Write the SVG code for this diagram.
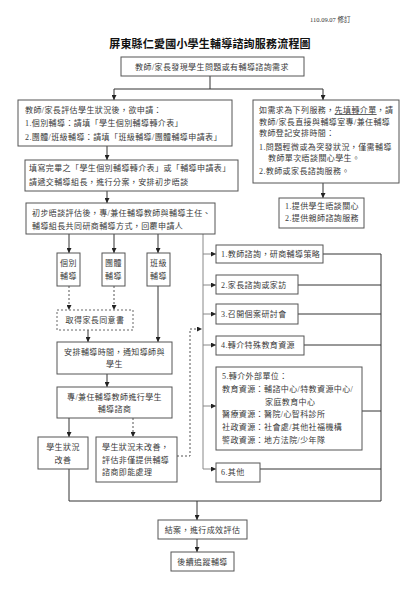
<svg xmlns="http://www.w3.org/2000/svg" width="420" height="593" viewBox="0 0 420 593">
<style>
.box{fill:#fff;stroke:#555;stroke-width:1}
.dbox{fill:#fff;stroke:#666;stroke-width:1;stroke-dasharray:2 2}
.ln{fill:none;stroke:#333;stroke-width:1}
.gl{fill:none;stroke:#888;stroke-width:1}
.dl{fill:none;stroke:#555;stroke-width:1;stroke-dasharray:2 2}
.t{font-family:"Liberation Serif","Noto Sans CJK TC",serif;font-size:8px;fill:#3a3a3a;letter-spacing:0.4px}
.c{text-anchor:middle}
.ttl{font-family:"Liberation Serif","Noto Sans CJK TC",serif;font-size:11px;font-weight:bold;fill:#111;letter-spacing:0.2px;text-anchor:middle}
.hd{font-family:"Liberation Serif","Noto Sans CJK TC",serif;font-size:6.5px;fill:#333}
</style>
<defs>
<marker id="ar" markerUnits="userSpaceOnUse" markerWidth="5" markerHeight="5" refX="5" refY="2.5" orient="auto"><path d="M0,0 L5,2.5 L0,5 z" fill="#222"/></marker>
</defs>
<rect width="420" height="593" fill="#fff"/>
<text class="hd" x="310" y="22">110.09.07 修訂</text>
<text class="ttl" x="210" y="48">屏東縣仁愛國小學生輔導諮詢服務流程圖</text>

<g id="connectors">
<path class="ln" d="M210,76 V89 M114,89 H323"/>
<path class="ln" d="M114,89 V100" marker-end="url(#ar)"/>
<path class="ln" d="M323,89 V100" marker-end="url(#ar)"/>
<path class="ln" d="M107,146 V160" marker-end="url(#ar)"/>
<path class="ln" d="M107,191 V203" marker-end="url(#ar)"/>
<path class="ln" d="M323,183 V198" marker-end="url(#ar)"/>
<path class="ln" d="M69,234 V253" marker-end="url(#ar)"/>
<path class="ln" d="M114,234 V253" marker-end="url(#ar)"/>
<path class="ln" d="M158,234 V253" marker-end="url(#ar)"/>
<path class="dl" d="M69,286 V310" marker-end="url(#ar)"/>
<path class="dl" d="M114,286 V310" marker-end="url(#ar)"/>
<path class="ln" d="M88,330 V342" marker-end="url(#ar)"/>
<path class="ln" d="M158,286 V342" marker-end="url(#ar)"/>
<path class="ln" d="M107,374 V387" marker-end="url(#ar)"/>
<path class="ln" d="M69,418 V437" marker-end="url(#ar)"/>
<path class="dl" d="M133,418 V437" marker-end="url(#ar)"/>
<path class="dl" d="M177,456 H190 V329 H202" marker-end="url(#ar)"/>
<path class="gl" d="M203,234 V469 H216" marker-end="url(#ar)"/>
<path class="gl" d="M203,254 H216" marker-end="url(#ar)"/>
<path class="gl" d="M203,285 H216" marker-end="url(#ar)"/>
<path class="gl" d="M203,314 H216" marker-end="url(#ar)"/>
<path class="gl" d="M203,345 H216" marker-end="url(#ar)"/>
<path class="gl" d="M203,406 H216" marker-end="url(#ar)"/>
<path class="ln" d="M323,254 H381 M298,285 H381 M298,314 H381 M304,345 H381 M362,411 H381 M260,469 H381 M381,254 V501 M69,469 V501 H381"/>
<path class="ln" d="M197,501 V520" marker-end="url(#ar)"/>
<path class="ln" d="M197,539 V552" marker-end="url(#ar)"/>
</g>

<g id="n-start"><rect class="box" x="121" y="57" width="183" height="19"/><text class="t c" x="212" y="70">教師/家長發現學生問題或有輔導諮詢需求</text></g>

<g id="n-apply"><rect class="box" x="18" y="100" width="214" height="46"/>
<text class="t" x="25" y="113">教師/家長評估學生狀況後，欲申請：</text>
<text class="t" x="25" y="126">1.個別輔導：請填「學生個別輔導轉介表」</text>
<text class="t" x="25" y="140">2.團體/班級輔導：請填「班級輔導/團體輔導申請表」</text></g>

<g id="n-submit"><rect class="box" x="25" y="160" width="213" height="31"/>
<text class="t" x="29" y="171">填寫完畢之「學生個別輔導轉介表」或「輔導申請表」</text>
<text class="t" x="29" y="185">請遞交輔導組長，進行分案，安排初步晤談</text></g>

<g id="n-assess"><rect class="box" x="26" y="203" width="189" height="31"/>
<text class="t" x="32" y="216">初步晤談評估後，專/兼任輔導教師與輔導主任、</text>
<text class="t" x="32" y="229">輔導組長共同研商輔導方式，回覆申請人</text></g>

<g id="n-right1"><rect class="box" x="253" y="100" width="146" height="83"/>
<text class="t" x="259" y="113">如需求為下列服務，<tspan text-decoration="underline">先填轉介單</tspan>，請</text>
<text class="t" x="259" y="125">教師/家長直接與輔導室專/兼任輔導</text>
<text class="t" x="259" y="136">教師登記安排時間：</text>
<text class="t" x="259" y="150">1.問題輕微或為突發狀況，僅需輔導</text>
<text class="t" x="268" y="161">教師單次晤談關心學生。</text>
<text class="t" x="259" y="174">2.教師或家長諮詢服務。</text></g>

<g id="n-right2"><rect class="box" x="279" y="198" width="85" height="30"/>
<text class="t" x="285" y="209">1.提供學生晤談關心</text>
<text class="t" x="285" y="221">2.提供親師諮詢服務</text></g>

<g id="n-indiv"><rect class="box" x="57" y="253" width="23" height="33"/><text class="t c" x="68.5" y="266">個別</text><text class="t c" x="68.5" y="279">輔導</text></g>
<g id="n-group"><rect class="box" x="102" y="253" width="23" height="33"/><text class="t c" x="113.5" y="266">團體</text><text class="t c" x="113.5" y="279">輔導</text></g>
<g id="n-class"><rect class="box" x="147" y="253" width="23" height="33"/><text class="t c" x="158.5" y="266">班級</text><text class="t c" x="158.5" y="279">輔導</text></g>

<g id="n-consent"><rect class="dbox" x="57" y="310" width="76" height="20"/><text class="t c" x="95" y="323">取得家長同意書</text></g>

<g id="n-schedule"><rect class="box" x="57" y="342" width="115" height="32"/>
<text class="t c" x="114.5" y="355">安排輔導時間，通知導師與</text>
<text class="t c" x="114.5" y="367">學生</text></g>

<g id="n-counsel"><rect class="box" x="57" y="387" width="115" height="31"/>
<text class="t c" x="114.5" y="400">專/兼任輔導教師進行學生</text>
<text class="t c" x="114.5" y="412">輔導諮商</text></g>

<g id="n-improved"><rect class="box" x="38" y="437" width="50" height="32"/>
<text class="t c" x="63" y="450">學生狀況</text>
<text class="t c" x="63" y="463">改善</text></g>

<g id="n-notimproved"><rect class="box" x="96" y="437" width="81" height="45"/>
<text class="t" x="102" y="450">學生狀況未改善，</text>
<text class="t" x="102" y="463">評估非僅提供輔導</text>
<text class="t" x="102" y="475">諮商即能處理</text></g>

<g id="n-o1"><rect class="box" x="216" y="245" width="107" height="18"/><text class="t" x="221" y="257">1.教師諮詢，研商輔導策略</text></g>
<g id="n-o2"><rect class="box" x="216" y="275" width="82" height="19"/><text class="t" x="221" y="288">2.家長諮詢或家訪</text></g>
<g id="n-o3"><rect class="box" x="216" y="304" width="82" height="20"/><text class="t" x="221" y="317">3.召開個案研討會</text></g>
<g id="n-o4"><rect class="box" x="216" y="336" width="88" height="19"/><text class="t" x="221" y="348">4.轉介特殊教育資源</text></g>
<g id="n-o5"><rect class="box" x="216" y="367" width="146" height="83"/>
<text class="t" x="222" y="379">5.轉介外部單位：</text>
<text class="t" x="222" y="392">教育資源：輔諮中心/特教資源中心/</text>
<text class="t" x="265" y="405">家庭教育中心</text>
<text class="t" x="222" y="417">醫療資源：醫院/心智科診所</text>
<text class="t" x="222" y="430">社政資源：社會處/其他社福機構</text>
<text class="t" x="222" y="443">警政資源：地方法院/少年隊</text></g>
<g id="n-o6"><rect class="box" x="216" y="463" width="44" height="19"/><text class="t" x="221" y="475">6.其他</text></g>

<g id="n-close"><rect class="box" x="158" y="520" width="89" height="19"/><text class="t c" x="202.5" y="533">結案，進行成效評估</text></g>
<g id="n-follow"><rect class="box" x="171" y="552" width="63" height="19"/><text class="t c" x="202.5" y="565">後續追蹤輔導</text></g>
</svg>
